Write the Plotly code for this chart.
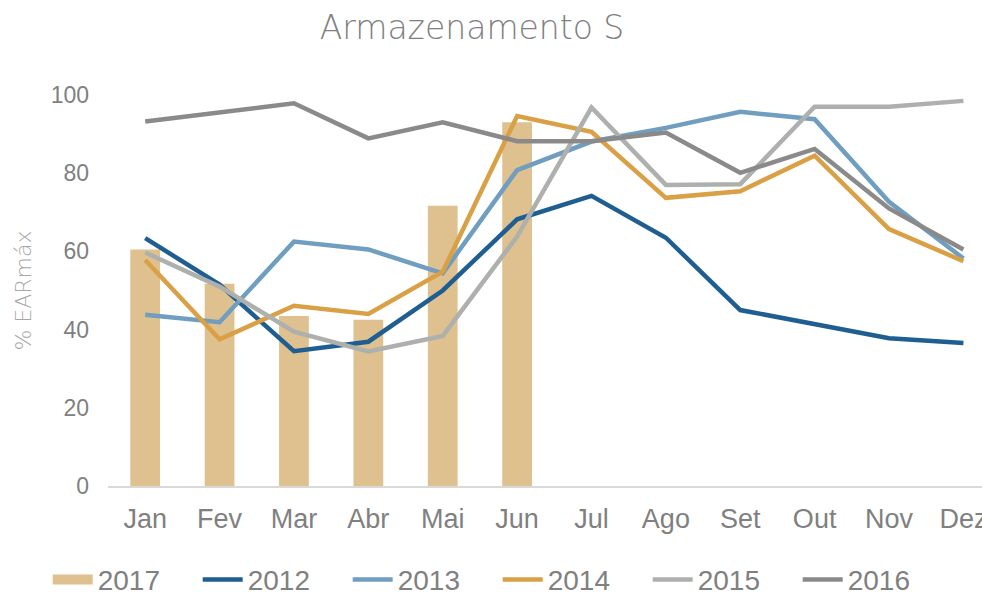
import plotly.graph_objects as go

months = ["Jan", "Fev", "Mar", "Abr", "Mai", "Jun", "Jul", "Ago", "Set", "Out", "Nov", "Dez"]

bar_2017 = [60.5, 51.7, 43.5, 42.5, 71.7, 93.0]

s2012 = [63.4, 51.5, 34.5, 36.9, 50.0, 68.2, 74.2, 63.5, 45.0, 41.5, 37.8, 36.6]
s2013 = [43.8, 41.9, 62.5, 60.5, 54.4, 80.8, 88.1, 91.6, 95.7, 93.8, 72.7, 58.2]
s2014 = [57.8, 37.5, 46.1, 44.0, 54.8, 94.6, 90.6, 73.7, 75.4, 84.5, 65.7, 57.5]
s2015 = [59.7, 51.0, 39.5, 34.4, 38.4, 63.8, 96.8, 77.0, 77.2, 97.0, 97.0, 98.5]
s2016 = [93.2, 95.5, 97.9, 88.9, 93.0, 88.2, 88.2, 90.4, 80.1, 86.2, 71.0, 60.5]

line_series = [
    ("2012", s2012, "#1F5E91"),
    ("2013", s2013, "#6F9EC0"),
    ("2014", s2014, "#D9A045"),
    ("2015", s2015, "#AEB0AD"),
    ("2016", s2016, "#898A89"),
]

bar_color = "#DFC08F"

fig = go.Figure()
fig.add_trace(go.Bar(
    x=months[:len(bar_2017)], y=bar_2017, name="2017",
    marker=dict(color=bar_color, line=dict(width=0)),
    width=0.4, showlegend=False, legendgroup="2017",
))
# legend-only entry giving the wide rectangular swatch of the 2017 bars
fig.add_trace(go.Scatter(
    x=[None], y=[None], name="2017", mode="lines",
    line=dict(color=bar_color, width=10), legendgroup="2017",
    hoverinfo="skip",
))
for name, vals, col in line_series:
    fig.add_trace(go.Scatter(
        x=months, y=vals, name=name, mode="lines",
        line=dict(color=col, width=4.5),
        cliponaxis=False,
    ))

tick_font = dict(family="Liberation Sans, Arial, sans-serif", color="#808080")

fig.update_layout(
    width=982, height=596,
    margin=dict(l=108, r=0, t=95, b=110, autoexpand=False),
    paper_bgcolor="white", plot_bgcolor="white",
    title=dict(
        text="Armazenamento S",
        font=dict(family="DejaVu Sans, Lato, sans-serif", size=33, color="#7F7F7F", weight=200),
        x=472 / 982, xanchor="center", xref="container",
        y=1 - 27 / 596, yanchor="middle", yref="container",
    ),
    showlegend=True,
    legend=dict(
        orientation="h",
        x=-0.069, xanchor="left",
        y=-0.24, yanchor="middle",
        font=dict(family="Liberation Sans, Arial, sans-serif", size=28, color="#808080"),
        entrywidth=95, entrywidthmode="pixels",
        itemwidth=40,
        traceorder="normal",
        bgcolor="rgba(0,0,0,0)",
    ),
    xaxis=dict(
        type="category",
        categoryorder="array", categoryarray=months,
        range=[-0.5, 11.25],
        showgrid=False,
        showline=True, linecolor="#D9D9D9", linewidth=2,
        ticks="",
        tickfont=dict(size=27, **tick_font),
        ticklabelstandoff=8,
        zeroline=False,
    ),
    yaxis=dict(
        range=[0, 100],
        tickvals=[0, 20, 40, 60, 80, 100],
        showgrid=False,
        zeroline=False,
        showline=False,
        ticks="",
        tickfont=dict(size=23, **tick_font),
        ticklabelstandoff=18,
        title=dict(
            text="% EARmáx",
            font=dict(family="DejaVu Sans, Lato, sans-serif", size=22, color="#A6A6A6", weight=200),
            standoff=12,
        ),
    ),
    bargap=0.6,
)

fig.write_html(
    "out.html",
    config={"displayModeBar": False},
    post_script="document.body.style.margin='0';document.body.style.overflow='hidden';",
)
